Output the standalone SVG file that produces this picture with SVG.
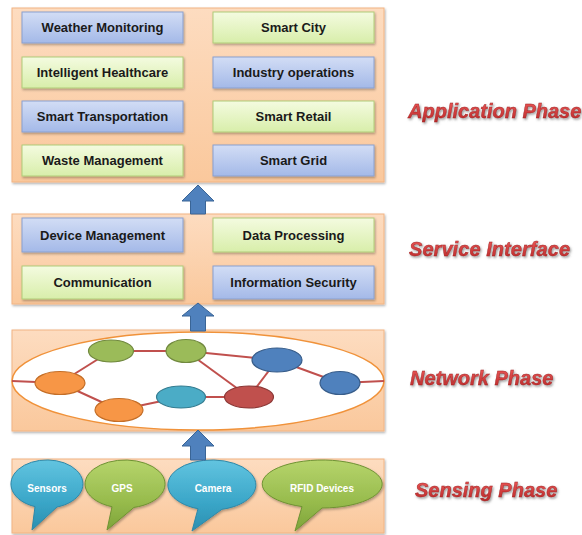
<svg xmlns="http://www.w3.org/2000/svg" width="582" height="535" viewBox="0 0 582 535">
<defs>
  <linearGradient id="gPanel" x1="0" y1="0" x2="0" y2="1">
    <stop offset="0" stop-color="#fddcc0"/>
    <stop offset="1" stop-color="#fac89c"/>
  </linearGradient>
  <linearGradient id="gBlue" x1="0" y1="0" x2="0" y2="1">
    <stop offset="0" stop-color="#d2ddf5"/>
    <stop offset="1" stop-color="#a4b9e8"/>
  </linearGradient>
  <linearGradient id="gGreen" x1="0" y1="0" x2="0" y2="1">
    <stop offset="0" stop-color="#f4fbe0"/>
    <stop offset="1" stop-color="#d8eeaa"/>
  </linearGradient>
  <linearGradient id="gBubBlue" x1="0" y1="0" x2="0" y2="1">
    <stop offset="0" stop-color="#62c4e0"/>
    <stop offset="0.6" stop-color="#3aa6c8"/>
    <stop offset="1" stop-color="#2b8fb0"/>
  </linearGradient>
  <linearGradient id="gBubGreen" x1="0" y1="0" x2="0" y2="1">
    <stop offset="0" stop-color="#b6d46c"/>
    <stop offset="0.6" stop-color="#97bb4c"/>
    <stop offset="1" stop-color="#7ea43a"/>
  </linearGradient>
  <linearGradient id="gLabel" x1="0" y1="0" x2="0" y2="1">
    <stop offset="0" stop-color="#ee5a5a"/>
    <stop offset="1" stop-color="#b82828"/>
  </linearGradient>
  <filter id="shadow" x="-10%" y="-10%" width="130%" height="140%">
    <feDropShadow dx="1" dy="1.5" stdDeviation="1" flood-color="#000" flood-opacity="0.3"/>
  </filter>
  <filter id="tshadow" x="-5%" y="-20%" width="115%" height="160%">
    <feDropShadow dx="1.2" dy="1.5" stdDeviation="0.8" flood-color="#555" flood-opacity="0.6"/>
  </filter>
</defs>
<style>
  .panel { fill: url(#gPanel); stroke: #f2b483; stroke-width: 1; filter: url(#shadow); }
  .bbox { fill: url(#gBlue); stroke: #8aa0cf; stroke-width: 1; filter: url(#shadow); }
  .gbox { fill: url(#gGreen); stroke: #b0cc78; stroke-width: 1; filter: url(#shadow); }
  .btxt { font-family: "Liberation Sans", Arial, sans-serif; font-weight: bold; font-size: 13px; fill: #1a1a1a; text-anchor: middle; }
  .label { font-family: "Liberation Sans", Arial, sans-serif; font-weight: bold; font-style: italic; font-size: 20px; fill: url(#gLabel); stroke: #9e1f1f; stroke-width: 0.4; filter: url(#tshadow); }
  .arrow { fill: #4f81bd; stroke: #3a6596; stroke-width: 1; }
  .edge { stroke: #c0504d; stroke-width: 2; fill: none; }
  .bubB { fill: url(#gBubBlue); stroke: #2e88a8; stroke-width: 1; filter: url(#shadow); }
  .bubG { fill: url(#gBubGreen); stroke: #6f9233; stroke-width: 1; filter: url(#shadow); }
  .wtxt { font-family: "Liberation Sans", Arial, sans-serif; font-weight: bold; font-size: 10px; fill: #ffffff; text-anchor: middle; }
</style>

<!-- Application Phase -->
<g id="application-phase">
  <rect class="panel" x="12" y="8" width="372" height="174"/>
  <g id="weather-monitoring"><rect class="bbox" x="22" y="12" width="161" height="31"/><text class="btxt" x="102.5" y="32">Weather Monitoring</text></g>
  <g id="smart-city"><rect class="gbox" x="213" y="12" width="161" height="31"/><text class="btxt" x="293.5" y="32">Smart City</text></g>
  <g id="intelligent-healthcare"><rect class="gbox" x="22" y="57" width="161" height="31"/><text class="btxt" x="102.5" y="77">Intelligent Healthcare</text></g>
  <g id="industry-operations"><rect class="bbox" x="213" y="57" width="161" height="31"/><text class="btxt" x="293.5" y="77">Industry operations</text></g>
  <g id="smart-transportation"><rect class="bbox" x="22" y="101" width="161" height="31"/><text class="btxt" x="102.5" y="121">Smart Transportation</text></g>
  <g id="smart-retail"><rect class="gbox" x="213" y="101" width="161" height="31"/><text class="btxt" x="293.5" y="121">Smart Retail</text></g>
  <g id="waste-management"><rect class="gbox" x="22" y="145" width="161" height="31"/><text class="btxt" x="102.5" y="165">Waste Management</text></g>
  <g id="smart-grid"><rect class="bbox" x="213" y="145" width="161" height="31"/><text class="btxt" x="293.5" y="165">Smart Grid</text></g>
</g>

<!-- Service Interface -->
<g id="service-interface">
  <rect class="panel" x="12" y="214" width="372" height="90"/>
  <g id="device-management"><rect class="bbox" x="22" y="218" width="161" height="34"/><text class="btxt" x="102.5" y="240">Device Management</text></g>
  <g id="data-processing"><rect class="gbox" x="213" y="218" width="161" height="34"/><text class="btxt" x="293.5" y="240">Data Processing</text></g>
  <g id="communication"><rect class="gbox" x="22" y="266" width="161" height="33"/><text class="btxt" x="102.5" y="287">Communication</text></g>
  <g id="information-security"><rect class="bbox" x="213" y="266" width="161" height="33"/><text class="btxt" x="293.5" y="287">Information Security</text></g>
</g>

<!-- Network Phase -->
<g id="network-phase">
  <rect class="panel" x="12" y="330" width="372" height="101"/>
  <ellipse cx="198" cy="381" rx="186" ry="49" fill="#ffffff" stroke="#f0923a" stroke-width="1.5"/>
  <g id="network-links">
    <line class="edge" x1="12" y1="381" x2="60" y2="383"/>
    <line class="edge" x1="60" y1="383" x2="111" y2="351"/>
    <line class="edge" x1="111" y1="351" x2="186" y2="351"/>
    <line class="edge" x1="186" y1="351" x2="277" y2="360"/>
    <line class="edge" x1="186" y1="351" x2="249" y2="397"/>
    <line class="edge" x1="277" y1="360" x2="249" y2="397"/>
    <line class="edge" x1="277" y1="360" x2="340" y2="383"/>
    <line class="edge" x1="340" y1="383" x2="384" y2="381"/>
    <line class="edge" x1="60" y1="383" x2="119" y2="410"/>
    <line class="edge" x1="119" y1="410" x2="181" y2="397"/>
    <line class="edge" x1="181" y1="397" x2="249" y2="397"/>
  </g>
  <ellipse id="n-orange1" cx="60" cy="383" rx="25" ry="11.5" fill="#f79646" stroke="#c46e27" stroke-width="1.2"/>
  <ellipse id="n-green1" cx="111" cy="351" rx="22.5" ry="11" fill="#9bbb59" stroke="#71893f" stroke-width="1.2"/>
  <ellipse id="n-green2" cx="186" cy="351" rx="20" ry="11.5" fill="#9bbb59" stroke="#71893f" stroke-width="1.2"/>
  <ellipse id="n-blue1" cx="277" cy="360" rx="25" ry="12" fill="#4f81bd" stroke="#385d8a" stroke-width="1.2"/>
  <ellipse id="n-blue2" cx="340" cy="383" rx="20" ry="11.5" fill="#4f81bd" stroke="#385d8a" stroke-width="1.2"/>
  <ellipse id="n-orange2" cx="119" cy="410" rx="24" ry="11.5" fill="#f79646" stroke="#c46e27" stroke-width="1.2"/>
  <ellipse id="n-teal" cx="181" cy="397" rx="24.5" ry="11" fill="#4bacc6" stroke="#357d91" stroke-width="1.2"/>
  <ellipse id="n-red" cx="249" cy="397" rx="24.5" ry="11" fill="#c0504d" stroke="#8c3836" stroke-width="1.2"/>
</g>

<!-- Sensing Phase -->
<g id="sensing-phase">
  <rect class="panel" x="12" y="459" width="372" height="74"/>
  <g id="sensors">
    <path class="bubB" d="M35,506.6 L32,530 L57,507 A36 24 0 1 0 35,506.6 Z"/>
    <text class="wtxt" x="47" y="492">Sensors</text>
  </g>
  <g id="gps">
    <path class="bubG" d="M112,506.7 L107,530 L134,507.4 A40 24 0 1 0 112,506.7 Z"/>
    <text class="wtxt" x="122" y="492">GPS</text>
  </g>
  <g id="camera">
    <path class="bubB" d="M198,508.7 L192,531 L222,509.3 A44 25 0 1 0 198,508.7 Z"/>
    <text class="wtxt" x="213" y="492">Camera</text>
  </g>
  <g id="rfid-devices">
    <path class="bubG" d="M302,506.6 L295,531 L322,508 A60 24 0 1 0 302,506.6 Z"/>
    <text class="wtxt" x="322" y="492">RFID Devices</text>
  </g>
</g>

<!-- Connectors (block arrows) -->
<g id="connectors">
  <path class="arrow" d="M198,185 L214,201 L205.5,201 L205.5,214 L190.5,214 L190.5,201 L182,201 Z"/>
  <path class="arrow" d="M198,303 L214,316 L205.5,316 L205.5,331 L190.5,331 L190.5,316 L182,316 Z"/>
  <path class="arrow" d="M198,430 L214,446 L205.5,446 L205.5,460 L190.5,460 L190.5,446 L182,446 Z"/>
</g>

<!-- Phase labels -->
<g id="labels">
  <text class="label" x="408" y="118">Application Phase</text>
  <text class="label" x="409" y="256" textLength="161" lengthAdjust="spacing">Service Interface</text>
  <text class="label" x="410" y="385">Network Phase</text>
  <text class="label" x="415" y="497">Sensing Phase</text>
</g>
</svg>
